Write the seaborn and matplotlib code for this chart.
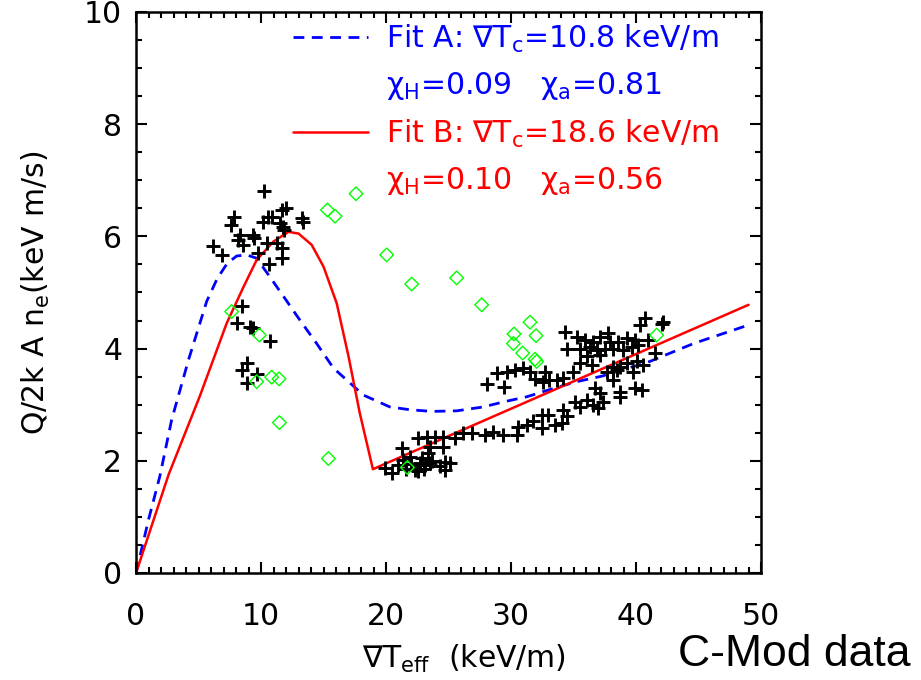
import numpy as np
import pandas as pd
import matplotlib

matplotlib.use("Agg")
import matplotlib.pyplot as plt
from matplotlib.lines import Line2D
from matplotlib.ticker import MultipleLocator
import seaborn as sns

# measured points (black crosses)
cross_x = [
    10.27, 6.19, 6.85, 7.87, 7.57, 8.32, 8.19, 8.53, 9.39, 9.47, 10.19, 10.85,
    11.71, 11.97, 11.52, 11.79, 11.87, 10.59, 10.45, 11.25, 11.65, 9.73, 10.67,
    11.71, 13.25, 13.39, 8.45, 8.05, 9.12, 9.33, 10.72, 8.85, 8.45, 9.65, 8.85,
    28.85, 29.65, 30.32, 30.99, 31.52, 28.05, 29.47, 31.92, 32.72, 33.07, 33.65,
    32.59, 32.99, 32.45, 31.79, 31.25, 30.59, 32.45, 30.45, 29.39, 28.59, 27.92,
    26.85, 26.19, 25.52, 24.59, 23.92, 23.25, 22.59, 24.59, 23.52, 21.25, 21.92,
    23.39, 24.72, 25.12, 22.72, 23.12, 23.52, 22.32, 22.59, 19.92, 20.45, 20.99,
    24.72, 21.39, 33.52, 22.0, 22.9, 23.7, 24.3, 21.6, 23.0,
    40.72, 40.32, 42.19, 42.05, 34.32, 35.25, 35.92, 36.59, 37.12, 37.79, 37.92,
    38.59, 39.25, 39.92, 40.19, 40.99, 34.45, 35.52, 36.32, 36.85, 37.52, 38.19,
    38.99, 39.65, 37.12, 36.05, 35.52, 36.45, 38.19, 38.72, 39.25, 40.05, 40.59,
    41.52, 34.99, 37.65, 38.45, 39.79, 34.19, 38.19, 36.72, 37.12, 39.92, 40.45,
    38.72, 38.72, 35.12, 36.05, 35.52, 36.59, 37.39, 36.99, 34.19, 34.45, 34.05,
]
cross_y = [
    6.80, 5.82, 5.67, 6.34, 6.20, 6.02, 5.94, 5.85, 6.02, 5.97, 6.26, 6.35,
    6.47, 6.50, 6.23, 6.17, 6.11, 6.35, 5.88, 5.88, 5.79, 5.70, 5.50,
    5.61, 6.32, 6.26, 4.76, 4.45, 4.39, 4.36, 4.14, 3.75, 3.61, 3.55, 3.38,
    3.57, 3.59, 3.62, 3.65, 3.59, 3.36, 3.32, 3.45, 3.59, 3.44, 3.44,
    3.41, 2.82, 2.82, 2.70, 2.64, 2.61, 2.58, 2.46, 2.46, 2.52, 2.46,
    2.49, 2.49, 2.40, 2.43, 2.43, 2.43, 2.40, 2.25, 2.25, 2.22, 2.07,
    2.13, 1.98, 1.96, 1.96, 1.93, 1.96, 1.84, 1.81, 1.87, 1.78, 1.93,
    1.84, 2.01, 2.64, 1.95, 2.05, 2.00, 1.90, 1.85, 1.85,
    4.54, 4.42, 4.48, 4.44, 4.30, 4.21, 4.15, 4.12, 4.21, 4.27, 4.12,
    4.12, 4.18, 4.15, 4.06, 4.15, 4.00, 4.00, 4.03, 3.98, 4.00, 4.00,
    3.98, 4.03, 3.89, 3.86, 3.74, 3.71, 3.68, 3.68, 3.74, 3.77, 3.71,
    3.92, 3.59, 3.59, 3.62, 3.59, 3.47, 3.44, 3.29, 3.20, 3.29, 3.26,
    3.23, 3.14, 3.05, 3.08, 2.96, 2.99, 3.05, 2.94, 2.91, 2.79, 2.67,
]

# green diamonds
diamond_x = [7.65, 9.87, 9.65, 10.85, 11.44, 11.47, 15.39, 15.31, 15.92, 17.6,
             20.05, 22.05, 25.65, 27.65, 31.52, 30.24, 32.0, 30.19, 30.93,
             31.92, 32.05, 21.71, 41.65]
diamond_y = [4.66, 4.24, 3.41, 3.49, 3.46, 2.68, 2.04, 6.47, 6.36, 6.76,
             5.67, 5.15, 5.26, 4.78, 4.47, 4.26, 4.23, 4.09, 3.92,
             3.81, 3.77, 1.88, 4.24]

# Fit A (blue dashed)
fit_a_x = [0, 1.0, 1.9, 2.85, 4.2, 5.65, 6.5, 7.3, 8.05, 8.85, 9.65, 10.7,
           11.8, 13.1, 14.45, 15.8, 17.0, 18.2, 20.3, 21.9, 23.65, 25.65,
           27.8, 29.4, 31.25, 33.4, 35.25, 37.3, 41.1, 44.6, 49.0]
fit_a_y = [0, 0.95, 1.72, 2.73, 3.8, 4.84, 5.25, 5.52, 5.65, 5.67, 5.61, 5.28,
           4.93, 4.51, 4.09, 3.65, 3.41, 3.17, 2.96, 2.91, 2.88, 2.89,
           2.96, 3.05, 3.14, 3.29, 3.41, 3.51, 3.77, 4.09, 4.42]

# Fit B (red solid)
fit_b_x = [0, 2.6, 5.1, 7.25, 8.6, 9.65, 11.0, 12.2, 13.0, 14.05, 15.0, 16.05,
           17.0, 17.9, 18.95, 49.0]
fit_b_y = [0, 1.75, 3.15, 4.45, 5.1, 5.58, 5.91, 6.08, 6.05, 5.85, 5.46, 4.81,
           3.86, 2.85, 1.85, 4.78]

fit_labels = [
    "Fit A: ∇T$_c$=10.8 keV/m",
    "χ$_H$=0.09   χ$_a$=0.81",
    "Fit B: ∇T$_c$=18.6 keV/m",
    "χ$_H$=0.10   χ$_a$=0.56",
]

sns.set_style("ticks")
plt.rcParams["font.family"] = ["DejaVu Sans"]
plt.rcParams["mathtext.default"] = "regular"
for key in ["text.color", "axes.labelcolor", "xtick.color", "ytick.color",
            "axes.edgecolor"]:
    plt.rcParams[key] = "black"

FS = 21.5
DASH = (0, (3.9, 2.7))  # scaled by line width

fig = plt.figure(figsize=(9.21, 6.8), dpi=100)
ax = fig.add_axes([0.1477, 0.1574, 0.6786, 0.825])

crosses = pd.DataFrame({"x": cross_x, "y": cross_y})
diamonds = pd.DataFrame({"x": diamond_x, "y": diamond_y})

sns.lineplot(x=fit_a_x, y=fit_a_y, sort=False, estimator=None, color="#0000ff",
             linestyle=DASH, lw=2.0, ax=ax)
sns.lineplot(x=fit_b_x, y=fit_b_y, sort=False, estimator=None, color="#ff0000",
             lw=1.8, ax=ax)
sns.scatterplot(data=crosses, x="x", y="y", marker="+", color="black", s=110,
                linewidth=2.1, ax=ax, zorder=3)
sns.scatterplot(data=diamonds, x="x", y="y", marker="D", facecolor="none",
                edgecolor="#00ff00", s=48, linewidth=1.0, ax=ax, zorder=4)

ax.set_xlim(0, 50)
ax.set_ylim(0, 10)
ax.xaxis.set_major_locator(MultipleLocator(10))
ax.xaxis.set_minor_locator(MultipleLocator(1))
ax.yaxis.set_major_locator(MultipleLocator(2))
ax.yaxis.set_minor_locator(MultipleLocator(0.5))
ax.tick_params(which="both", direction="in", top=True, right=True,
               width=1.5, color="black")
ax.tick_params(which="major", length=8)
ax.tick_params(which="minor", length=4)
ax.tick_params(axis="x", which="major", pad=21, labelsize=FS)
ax.tick_params(axis="y", which="major", pad=10, labelsize=FS)
for sp in ax.spines.values():
    sp.set_linewidth(1.8)
    sp.set_color("black")

ax.set_xlabel("∇T$_{eff}$  (keV/m)", fontsize=FS)
ax.xaxis.set_label_coords(0.525, -0.125)
ax.set_ylabel("Q/2k A n$_e$(keV m/s)", fontsize=FS)
ax.yaxis.set_label_coords(-0.135, 0.5)

handles = [
    Line2D([], [], color="#0000ff", lw=2.0, linestyle=DASH),
    Line2D([], [], linestyle="none"),
    Line2D([], [], color="#ff0000", lw=1.8),
    Line2D([], [], linestyle="none"),
]
ax.legend(handles, fit_labels, loc="upper left", bbox_to_anchor=(0.251, 0.981),
          frameon=False, fontsize=FS, handlelength=2.5, handletextpad=0.63,
          labelspacing=0.52, borderpad=0, borderaxespad=0,
          labelcolor=["#0000ff", "#0000ff", "#ff0000", "#ff0000"])

fig.text(794 / 921, 1 - 655 / 680, "C-Mod data", ha="center", va="center",
         fontsize=32, family=["Liberation Sans", "DejaVu Sans"])

fig.savefig("out.png", dpi=100)
plt.close(fig)
